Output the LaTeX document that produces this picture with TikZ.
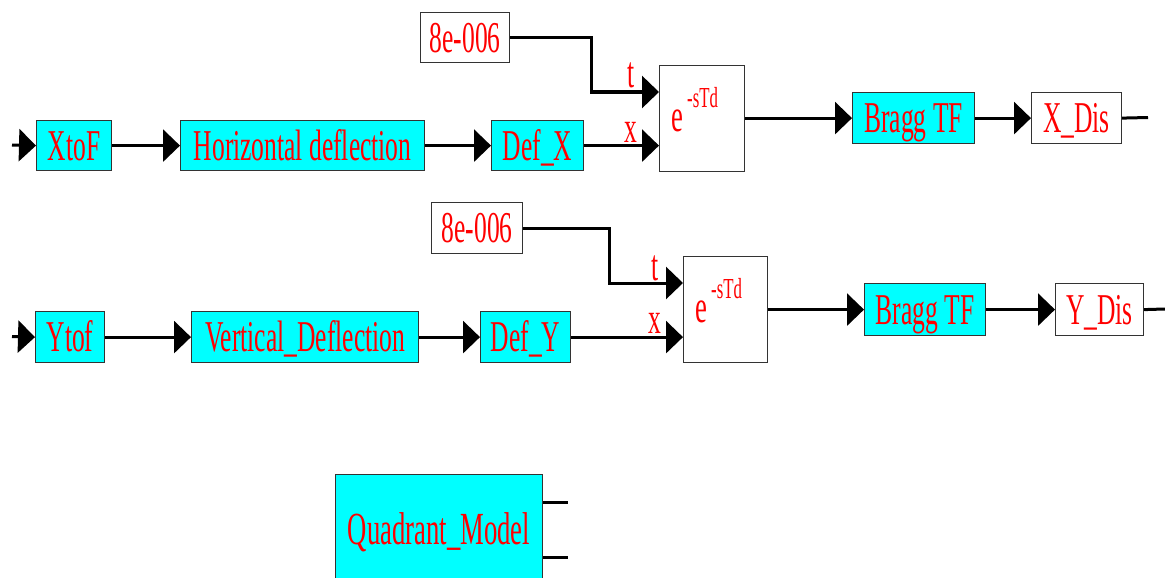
\documentclass[tikz,border=0pt]{standalone}
\usepackage{fontspec}
\setmainfont{Liberation Serif}
\newfontfamily\cond[FakeStretch=0.58]{Liberation Serif}
\usetikzlibrary{arrows.meta}
\definecolor{boxcyan}{RGB}{0,255,255}
\definecolor{txtred}{RGB}{255,0,0}
\tikzset{
  blk/.style={draw=black!80, line width=1.2pt, inner sep=0pt, anchor=north west,
    font=\cond\fontsize{44}{44}\selectfont, text=txtred, text height=29pt, text depth=0pt},
  cyanblk/.style={blk, fill=boxcyan},
  whiteblk/.style={blk, fill=white},
  delayblk/.style={draw=black!80, line width=1.2pt, fill=white, anchor=north west, inner sep=0pt},
  wire/.style={line width=3pt},
  arr/.style={wire, -{Triangle[length=17pt,width=32pt]}},
  lbl/.style={font=\cond\fontsize{44}{44}\selectfont, text=txtred, inner sep=0pt, anchor=base},
  ebase/.style={font=\cond\fontsize{46}{46}\selectfont, text=txtred, inner sep=0pt, anchor=base west},
  supl/.style={font=\cond\fontsize{29}{29}\selectfont, text=txtred, inner sep=0pt, anchor=base west},
}
\begin{document}
\begin{tikzpicture}[x=1pt,y=-1pt]
\useasboundingbox (0,0) rectangle (1165,578);
% ---------------- Row 1 ----------------
\node[cyanblk, minimum width=75pt, minimum height=50pt] (xtof) at (36,120) {XtoF};
\node[cyanblk, minimum width=244pt, minimum height=50pt] (hd) at (180,120) {Horizontal deflection};
\node[cyanblk, minimum width=92pt, minimum height=50pt] (defx) at (491,120) {Def\_X};
\node[whiteblk, minimum width=89pt, minimum height=50pt] (c1) at (420,12) {8e-006};
\node[delayblk, minimum width=85pt, minimum height=106pt] (d1) at (659,65) {};
\node[ebase] (d1e) at (671,131) {e};
\node[supl] (d1s) at (687,107) {-sTd};
\node[cyanblk, minimum width=122pt, minimum height=51pt] (bragg1) at (852,92) {Bragg TF};
\node[whiteblk, minimum width=90pt, minimum height=51pt] (xdis) at (1031,92) {X\_Dis};

\coordinate (i1) at (12,145);
\coordinate (d1t) at (659,92);
\coordinate (d1x) at (d1.west |- defx.east);
\coordinate (o1) at (1148,117.5);
\draw[arr] (i1) -- (xtof.west);
\draw[arr] (xtof.east) -- (hd.west);
\draw[arr] (hd.east) -- (defx.west);
\draw[arr] (defx.east) -- (d1x);
\draw[arr] (c1.east) -| ([xshift=-68pt]d1t) -- (d1t);
\draw[arr] (d1.east |- bragg1.west) -- (bragg1.west);
\draw[arr] (bragg1.east) -- (xdis.west);
\draw[wire] (xdis.east) -- (o1);
\node[lbl] (t1) at (631,88) {t};
\node[lbl] (x1) at (631,142) {x};

% ---------------- Row 2 ----------------
\node[cyanblk, minimum width=69pt, minimum height=51pt] (ytof) at (35,311) {Ytof};
\node[cyanblk, minimum width=227pt, minimum height=51pt] (vd) at (191,311) {Vertical\_Deflection};
\node[cyanblk, minimum width=90pt, minimum height=51pt] (defy) at (480,311) {Def\_Y};
\node[whiteblk, minimum width=91pt, minimum height=51pt] (c2) at (431,202) {8e-006};
\node[delayblk, minimum width=84pt, minimum height=106pt] (d2) at (683,256) {};
\node[ebase] (d2e) at (695,322) {e};
\node[supl] (d2s) at (711,298) {-sTd};
\node[cyanblk, minimum width=121pt, minimum height=52pt] (bragg2) at (864,283) {Bragg TF};
\node[whiteblk, minimum width=88pt, minimum height=52pt] (ydis) at (1055,283) {Y\_Dis};

\coordinate (i2) at (12,336.5);
\coordinate (d2t) at (683,283);
\coordinate (d2x) at (d2.west |- defy.east);
\coordinate (o2) at (1165,309);
\draw[arr] (i2) -- (ytof.west);
\draw[arr] (ytof.east) -- (vd.west);
\draw[arr] (vd.east) -- (defy.west);
\draw[arr] (defy.east) -- (d2x);
\draw[arr] (c2.east) -| ([xshift=-74pt]d2t) -- (d2t);
\draw[arr] (d2.east |- bragg2.west) -- (bragg2.west);
\draw[arr] (bragg2.east) -- (ydis.west);
\draw[wire] (ydis.east) -- (o2);
\node[lbl] (t2) at (655,280) {t};
\node[lbl] (x2) at (655,333) {x};

% ---------------- Quadrant model ----------------
\node[cyanblk, minimum width=207pt, minimum height=111pt,
      font=\cond\fontsize{46}{46}\selectfont] (quad) at (335,474) {Quadrant\_Model};
\coordinate (q1) at (568,502);
\coordinate (q2) at (568,557);
\draw[wire] (q1 -| quad.east) -- (q1);
\draw[wire] (q2 -| quad.east) -- (q2);
\end{tikzpicture}
\end{document}
